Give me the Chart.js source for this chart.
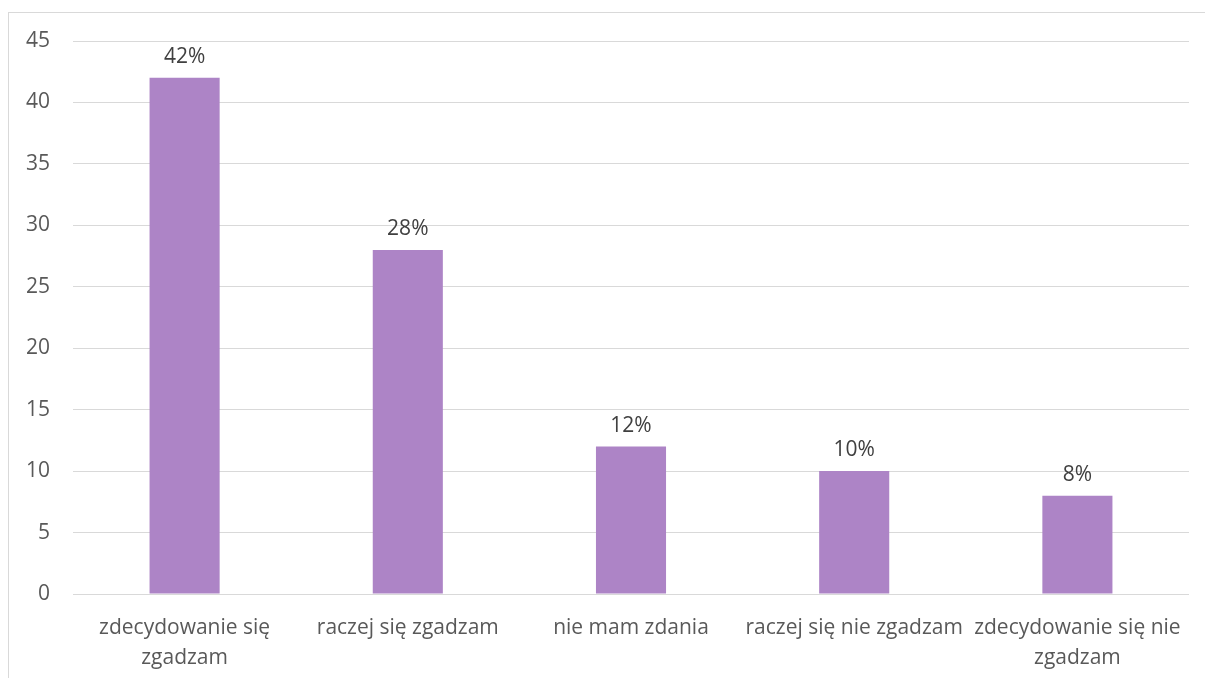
<!DOCTYPE html>
<html>
<head>
<meta charset="utf-8">
<script src="https://cdn.jsdelivr.net/npm/chart.js@4/dist/chart.umd.min.js"></script>
<style>
  html, body { margin: 0; padding: 0; background: #fff; overflow: hidden; }
  #wrap { position: relative; width: 1205px; height: 678px; }
  #frame { position: absolute; left: 8px; top: 12px; width: 1300px; height: 800px; border: 1px solid #d9d9d9; box-sizing: border-box; }
  canvas { position: absolute; left: 0; top: 0; }
</style>
</head>
<body>
<div id="wrap">
  <div id="frame"></div>
  <canvas id="c" width="1205" height="678"></canvas>
</div>
<script>
const categories = [
  ["zdecydowanie się", "zgadzam"],
  "raczej się zgadzam",
  "nie mam zdania",
  "raczej się nie zgadzam",
  ["zdecydowanie się nie", "zgadzam"]
];
const values = [42, 28, 12, 10, 8];
const valueLabels = ["42%", "28%", "12%", "10%", "8%"];
const yTicks = [0, 5, 10, 15, 20, 25, 30, 35, 40, 45];

const FONT = "'Open Sans', sans-serif";

const dataLabelPlugin = {
  id: 'dataLabels',
  afterDatasetsDraw(chart) {
    const ctx = chart.ctx;
    const meta = chart.getDatasetMeta(0);
    ctx.save();
    ctx.font = "21px " + FONT;
    ctx.fillStyle = "#404040";
    ctx.textAlign = "center";
    ctx.textBaseline = "alphabetic";
    meta.data.forEach((bar, i) => {
      ctx.fillText(valueLabels[i], bar.x, bar.y - 15);
    });
    ctx.restore();
  }
};

new Chart(document.getElementById('c'), {
  type: 'bar',
  data: {
    labels: categories,
    datasets: [{
      data: values,
      backgroundColor: '#AD84C6',
      borderWidth: 0,
      barPercentage: 0.314,
      categoryPercentage: 1.0
    }]
  },
  options: {
    responsive: false,
    animation: false,
    devicePixelRatio: 1,
    layout: { autoPadding: false, padding: { left: 0, right: 16, top: 41, bottom: 0 } },
    plugins: { legend: { display: false }, tooltip: { enabled: false } },
    scales: {
      x: {
        grid: { display: false },
        border: { display: false },
        ticks: {
          color: '#595959',
          font: { family: FONT, size: 21, lineHeight: 1.43 },
          padding: 11,
          maxRotation: 0,
          autoSkip: false
        },
        afterFit(s) { s.height = 84; }
      },
      y: {
        min: 0, max: 45,
        afterBuildTicks(s) { s.ticks = yTicks.map(v => ({ value: v })); },
        grid: { color: '#d9d9d9', lineWidth: 1, drawTicks: false },
        border: { display: false },
        ticks: {
          color: '#595959',
          font: { family: FONT, size: 21 },
          padding: 23
        },
        afterFit(s) { s.width = 73; }
      }
    }
  },
  plugins: [dataLabelPlugin]
});
</script>
</body>
</html>
